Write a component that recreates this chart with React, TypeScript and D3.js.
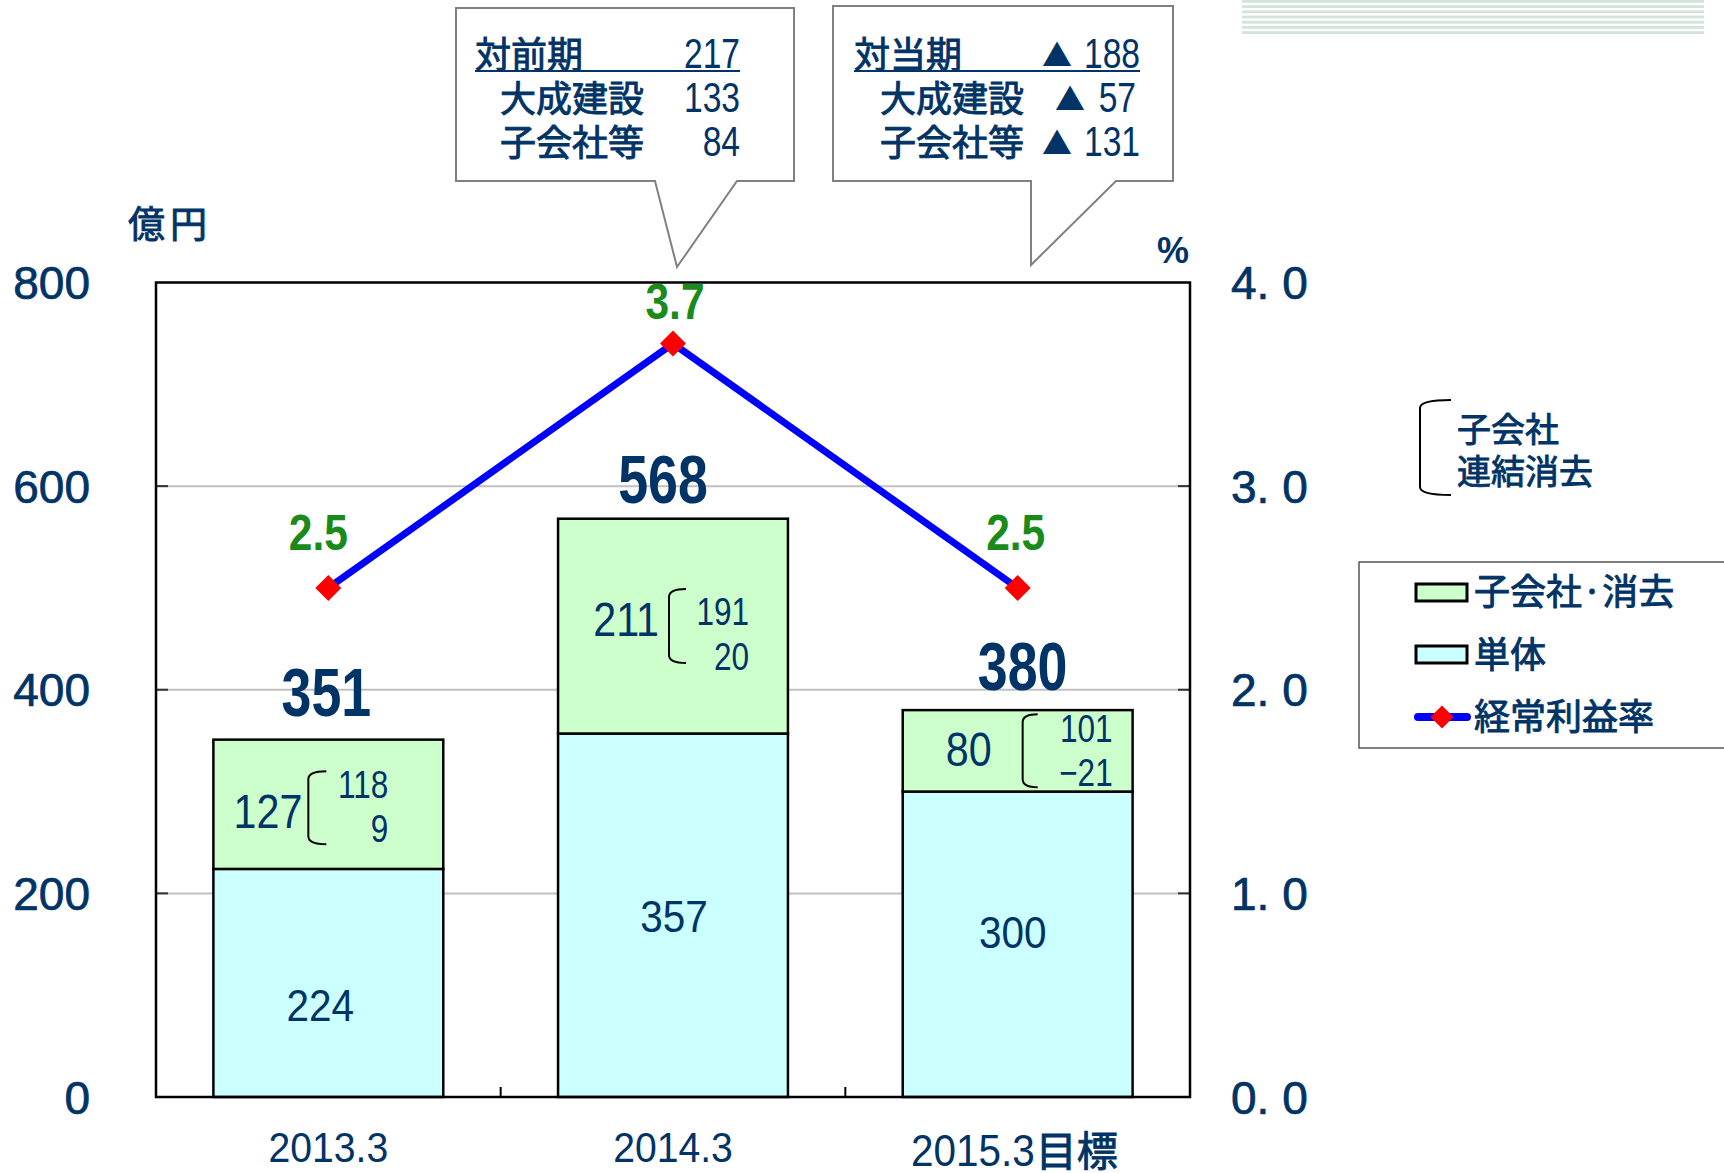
import React from "react";
import * as d3 from "d3";

// ---------- data ----------
const categories = ["2013.3", "2014.3", "2015.3目標"];
const standalone = [224, 357, 300]; // 単体
const subsidiaries = [127, 211, 80]; // 子会社・消去
const totals = [351, 568, 380];
const subsCompany = [118, 191, 101]; // 子会社
const consolidationElim = ["9", "20", "−21"]; // 連結消去
const marginRate = [2.5, 3.7, 2.5]; // 経常利益率 %
const leftTicks = [0, 200, 400, 600, 800];
const rightTicks = [0, 1, 2, 3, 4];
const callout1Labels = ["対前期", "大成建設", "子会社等"];
const callout1Values = ["217", "133", "84"];
const callout2Labels = ["対当期", "大成建設", "子会社等"];
const callout2Values = ["188", "57", "131"];
const legendLabels = ["子会社·消去", "単体", "経常利益率"];

// ---------- layout / style ----------
const W = 1724;
const H = 1173;
const PL = 156, PR = 1190, PT = 282.5, PB = 1097;
const NAVY = "#003366";
const GREEN_TXT = "#1a8a1a";
const JP = "'Noto Sans CJK JP', 'Noto Sans', sans-serif";
const SANS = "'Liberation Sans', Arial, sans-serif";
const JPSTYLE = { fontFamily: JP, fill: NAVY, stroke: NAVY, strokeWidth: 0.9 };

const annot = [
  { mainRight: -26, mainBase: 23.5, brL: -20, brR: -2, brTop: -33, brBot: 40, subRight: 60, sub1: -6.5, sub2: 37.5 },
  { mainRight: -14, mainBase: 10, brL: -4, brR: 13, brTop: -37, brBot: 37, subRight: 76, sub1: -1, sub2: 44 },
  { mainRight: -26, mainBase: 15, brL: 5, brR: 20, brTop: -36.5, brBot: 36.5, subRight: 95, sub1: -9, sub2: 35 },
];
const blueLabelOff = [{ dx: -8, dy: 38 }, { dx: 1, dy: 17 }, { dx: -5, dy: 4 }];
const totalOff = [{ dx: -2, dy: -24 }, { dx: -10, dy: -16 }, { dx: 5, dy: -20 }];
const rateOff = [{ dx: -10, dy: -38 }, { dx: 2, dy: -25 }, { dx: -2, dy: -38 }];
const catBase = [1162, 1162, 1166];
const tri2X = [1057, 1070, 1057];

function bracket(x0: number, x1: number, y0: number, y1: number) {
  const r = 8;
  return `M${x1},${y0} Q${x0},${y0} ${x0},${y0 + r} L${x0},${y1 - r} Q${x0},${y1} ${x1},${y1}`;
}

// condensed text helper: draws text at origin then squeezes horizontally
function NT(props: any) {
  const { x, y, sx = 0.82, anchor = "start", children, ...rest } = props;
  return (
    <text transform={`translate(${x},${y}) scale(${sx},1)`} textAnchor={anchor} fontFamily={SANS} fill={NAVY} {...rest}>
      {children}
    </text>
  );
}

export default function App() {
  const x = d3.scaleBand<string>().domain(categories).range([PL, PR]).paddingInner(0.333).paddingOuter(0.1665);
  const y = d3.scaleLinear().domain([0, 800]).range([PB, PT]);
  const yR = d3.scaleLinear().domain([0, 4]).range([PB, PT]);
  const bw = x.bandwidth();
  const cx = (c: string) => (x(c) as number) + bw / 2;

  const linePts: [number, number][] = categories.map((c, i) => [cx(c), yR(marginRate[i])]);
  const line = d3.line()(linePts) || "";
  const diamond = d3.symbol().type(d3.symbolSquare).size(338)() || "";
  const diamondLeg = d3.symbol().type(d3.symbolSquare).size(265)() || "";

  const step = x.step();
  const boundaries = [1, 2].map((i) => PL + step * i);

  const stripes = d3.range(7);

  return (
    <svg width={W} height={H} style={{ position: "absolute", left: 0, top: 0, background: "#fff" }}>
      {/* decorative stripes top-right */}
      {stripes.map((i) => (
        <rect key={i} x={1242} y={i * 5.2} width={462} height={2.8} fill="#d3e2da" />
      ))}

      {/* gridlines */}
      {leftTicks.filter((t) => t > 0 && t < 800).map((t) => (
        <g key={t}>
          <line x1={PL} x2={PR} y1={y(t)} y2={y(t)} stroke="#c0c0c0" strokeWidth={2} />
          <line x1={PL} x2={PL + 12} y1={y(t)} y2={y(t)} stroke="#333" strokeWidth={2} />
          <line x1={PR - 12} x2={PR} y1={y(t)} y2={y(t)} stroke="#333" strokeWidth={2} />
        </g>
      ))}

      {/* bars */}
      {categories.map((c, i) => {
        const x0 = x(c) as number;
        return (
          <g key={c}>
            <rect x={x0} y={y(standalone[i])} width={bw} height={y(0) - y(standalone[i])} fill="#ccffff" stroke="#000" strokeWidth={2.5} />
            <rect x={x0} y={y(standalone[i] + subsidiaries[i])} width={bw} height={y(standalone[i]) - y(standalone[i] + subsidiaries[i])} fill="#ccffcc" stroke="#000" strokeWidth={2.5} />
          </g>
        );
      })}

      {/* plot frame */}
      <rect x={PL} y={PT} width={PR - PL} height={PB - PT} fill="none" stroke="#000" strokeWidth={2.5} />
      {boundaries.map((b, i) => (
        <line key={i} x1={b} x2={b} y1={PB} y2={PB - 10} stroke="#000" strokeWidth={2} />
      ))}

      {/* in-bar labels */}
      {categories.map((c, i) => {
        const c0 = cx(c);
        const gTop = y(standalone[i] + subsidiaries[i]);
        const gBot = y(standalone[i]);
        const gc = (gTop + gBot) / 2;
        const bc = (gBot + y(0)) / 2;
        const a = annot[i];
        return (
          <g key={c}>
            <NT x={c0 + blueLabelOff[i].dx} y={bc + blueLabelOff[i].dy} anchor="middle" sx={0.9} fontSize={45}>{standalone[i]}</NT>
            <NT x={c0 + a.mainRight} y={gc + a.mainBase} anchor="end" sx={0.86} fontSize={48}>{subsidiaries[i]}</NT>
            <path d={bracket(c0 + a.brL, c0 + a.brR, gc + a.brTop, gc + a.brBot)} fill="none" stroke="#000" strokeWidth={2} />
            <NT x={c0 + a.subRight} y={gc + a.sub1} anchor="end" sx={0.83} fontSize={38}>{subsCompany[i]}</NT>
            <NT x={c0 + a.subRight} y={gc + a.sub2} anchor="end" sx={0.83} fontSize={38}>{consolidationElim[i]}</NT>
            <NT x={c0 + totalOff[i].dx} y={gTop + totalOff[i].dy} anchor="middle" sx={0.79} fontWeight="bold" fontSize={68}>{totals[i]}</NT>
          </g>
        );
      })}

      {/* line + markers */}
      <path d={line} fill="none" stroke="#0000ff" strokeWidth={7} />
      {linePts.map((p, i) => (
        <g key={i}>
          <path d={diamond} transform={`translate(${p[0]},${p[1]}) rotate(45)`} fill="#ff0000" />
          <NT x={p[0] + rateOff[i].dx} y={p[1] + rateOff[i].dy} anchor="middle" sx={0.85} fontWeight="bold" fontSize={50} fill={GREEN_TXT}>{marginRate[i].toFixed(1)}</NT>
        </g>
      ))}

      {/* left axis labels */}
      {leftTicks.map((t) => (
        <text key={t} x={90} y={y(t)} dy="0.36em" textAnchor="end" fontFamily={SANS} fontSize={46} fill={NAVY} stroke={NAVY} strokeWidth={0.7}>{t}</text>
      ))}
      <text x={128} y={238} fontSize={37} letterSpacing={5} {...JPSTYLE}>億円</text>

      {/* right axis labels */}
      {rightTicks.map((t) => (
        <text key={t} x={1231} y={yR(t)} dy="0.36em" fontFamily={SANS} fontSize={46} fill={NAVY} stroke={NAVY} strokeWidth={0.7}>{`${t}. 0`}</text>
      ))}
      <text x={1173} y={263} textAnchor="middle" fontFamily={SANS} fontWeight="bold" fontSize={36} fill={NAVY}>%</text>

      {/* category labels */}
      {categories.map((c, i) => {
        const hasJP = c.includes("目標");
        const num = c.replace("目標", "");
        if (!hasJP) {
          return <NT key={c} x={cx(c)} y={catBase[i]} anchor="middle" sx={0.91} fontSize={43}>{num}</NT>;
        }
        return (
          <g key={c}>
            <NT x={cx(c) + 17} y={catBase[i]} anchor="end" sx={0.92} fontSize={44}>{num}</NT>
            <text x={cx(c) + 18} y={catBase[i]} fontSize={41} {...JPSTYLE}>目標</text>
          </g>
        );
      })}

      {/* callout 1 */}
      <path d="M456,8 L794,8 L794,181 L737,181 L677,267 L655,181 L456,181 Z" fill="#fff" stroke="#808080" strokeWidth={2} />
      <line x1={475} x2={740} y1={71} y2={71} stroke={NAVY} strokeWidth={2} />
      {callout1Labels.map((l, i) => (
        <g key={l}>
          <text x={i === 0 ? 475 : 500} y={68 + i * 44} fontSize={36} {...JPSTYLE}>{l}</text>
          <NT x={740} y={68 + i * 44} anchor="end" sx={0.8} fontSize={42}>{callout1Values[i]}</NT>
        </g>
      ))}

      {/* callout 2 */}
      <path d="M833,6 L1173,6 L1173,181 L1116,181 L1031,265 L1031,181 L833,181 Z" fill="#fff" stroke="#808080" strokeWidth={2} />
      <line x1={854} x2={1140} y1={71} y2={71} stroke={NAVY} strokeWidth={2} />
      {callout2Labels.map((l, i) => (
        <g key={l}>
          <text x={i === 0 ? 854 : 880} y={68 + i * 44} fontSize={36} {...JPSTYLE}>{l}</text>
          <text x={tri2X[i]} y={66 + i * 44} textAnchor="middle" fontFamily={JP} fontSize={30} fill={NAVY}>▲</text>
          <NT x={i === 1 ? 1136 : 1140} y={68 + i * 44} anchor="end" sx={0.8} fontSize={42}>{callout2Values[i]}</NT>
        </g>
      ))}

      {/* bracket note */}
      <path d={bracket(1420, 1451, 400, 495)} fill="none" stroke="#000" strokeWidth={2} />
      <text x={1457} y={442} fontSize={34} {...JPSTYLE}>子会社</text>
      <text x={1457} y={484} fontSize={34} {...JPSTYLE}>連結消去</text>

      {/* legend */}
      <rect x={1359} y={562} width={380} height={186} fill="#fff" stroke="#555" strokeWidth={1.5} />
      <rect x={1416} y={584} width={51} height={17} fill="#ccffcc" stroke="#000" strokeWidth={3} />
      <rect x={1416} y={646} width={51} height={17} fill="#ccffff" stroke="#000" strokeWidth={3} />
      <line x1={1418} x2={1467} y1={717} y2={717} stroke="#0000ff" strokeWidth={8} strokeLinecap="round" />
      <path d={diamondLeg} transform={`translate(1442,717) rotate(45)`} fill="#ff0000" />
      {legendLabels.map((l, i) => (
        <text key={l} x={1474} y={[592, 655, 717][i]} dy="0.36em" fontSize={36} {...JPSTYLE}>{l}</text>
      ))}
    </svg>
  );
}
